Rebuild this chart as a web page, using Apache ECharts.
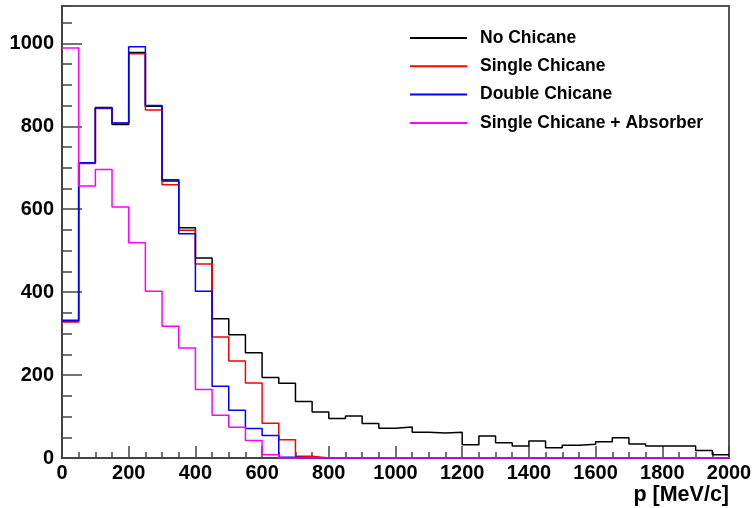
<!DOCTYPE html>
<html>
<head>
<meta charset="utf-8">
<script src="https://cdn.jsdelivr.net/npm/echarts@6/dist/echarts.min.js"></script>
<style>
  html, body { margin: 0; padding: 0; background: #fff; }
  #chart { width: 753px; height: 508px; }
</style>
</head>
<body>
<div id="chart"></div>
<script>
// histogram bins: 40 bins of 50 MeV/c from 0 to 2000
const binWidth = 50;
const binCount = 40;
const xTicks = [0, 200, 400, 600, 800, 1000, 1200, 1400, 1600, 1800, 2000];
const yTicks = [0, 200, 400, 600, 800, 1000];

const seriesNames = ["No Chicane", "Single Chicane", "Double Chicane", "Single Chicane + Absorber"];

const noChicane = [330, 712, 845, 804, 978, 848, 668, 555, 482, 336,
    297, 254, 194, 180, 136, 111, 95, 101, 83, 72,
    75, 62, 60, 62, 32, 53, 37, 29, 41, 25,
    31, 33, 39, 49, 34, 29, 29, 29, 18, 8];
const singleChicane = [328, 710, 843, 807, 975, 839, 659, 549, 468, 292,
    234, 181, 84, 44, 4, 0, 0, 0, 0, 0,
    0, 0, 0, 0, 0, 0, 0, 0, 0, 0,
    0, 0, 0, 0, 0, 0, 0, 0, 0, 0];
const doubleChicane = [332, 712, 844, 808, 992, 850, 671, 541, 402, 173,
    115, 71, 54, 2, 0, 0, 0, 0, 0, 0,
    0, 0, 0, 0, 0, 0, 0, 0, 0, 0,
    0, 0, 0, 0, 0, 0, 0, 0, 0, 0];
const singleAbsorber = [989, 656, 696, 605, 519, 402, 318, 265, 165, 103,
    74, 42, 8, 0, 0, 0, 0, 0, 0, 0,
    0, 0, 0, 0, 0, 0, 0, 0, 0, 0,
    0, 0, 0, 0, 0, 0, 0, 0, 0, 0];

const colors = ["#000000", "#ff0000", "#0000ff", "#ff00ff"];

// [low edge, content] pairs, plus the closing edge so the last bin is drawn
function toSteps(values) {
    const pts = values.map((v, i) => [i * binWidth, v]);
    pts.push([binCount * binWidth, values[values.length - 1]]);
    return pts;
}

const chart = echarts.init(document.getElementById("chart"));
const font = "Liberation Sans, Arial, Helvetica, sans-serif";
const axisColor = "#444";
const plain = v => String(v);

chart.setOption({
    animation: false,
    textStyle: { fontFamily: font },
    grid: {
        left: 62,
        right: 24,
        top: 6,
        bottom: 50,
        outerBoundsMode: "none",
        show: true,
        borderColor: "#555",
        borderWidth: 2
    },
    legend: {
        orient: "vertical",
        left: 405,
        top: 23,
        itemWidth: 57,
        itemHeight: 2,
        itemGap: 8.3,
        icon: "rect",
        data: seriesNames,
        textStyle: {
            fontFamily: font,
            fontWeight: "bold",
            fontSize: 17.5,
            color: "#000",
            lineHeight: 20,
            padding: [0, 0, 0, 8]
        }
    },
    xAxis: {
        type: "value",
        min: xTicks[0],
        max: xTicks[xTicks.length - 1],
        interval: xTicks[1] - xTicks[0],
        splitLine: { show: false },
        axisLine: { show: true, lineStyle: { color: axisColor, width: 2 } },
        axisTick: { show: true, inside: true, length: 12, lineStyle: { color: axisColor, width: 1.5 } },
        minorTick: { show: true, splitNumber: 4, length: 6, lineStyle: { color: axisColor, width: 1.5 } },
        axisLabel: {
            color: "#000",
            fontSize: 20,
            fontWeight: "bold",
            fontFamily: font,
            margin: 5,
            formatter: plain
        },
        name: "p [MeV/c]",
        nameLocation: "end",
        nameGap: 0,
        nameMoveOverlap: false,
        nameTextStyle: {
            color: "#000",
            fontSize: 21.5,
            fontWeight: "bold",
            fontFamily: font,
            align: "right",
            verticalAlign: "top",
            padding: [26, 0, 0, 0]
        }
    },
    yAxis: [
        {
            type: "value",
            min: yTicks[0],
            max: 1090,
            interval: yTicks[1] - yTicks[0],
            splitLine: { show: false },
            axisLine: { show: true, lineStyle: { color: axisColor, width: 2 } },
            axisTick: { show: true, inside: true, length: 20, lineStyle: { color: axisColor, width: 1.5 } },
            axisLabel: {
                color: "#000",
                fontSize: 20,
                fontWeight: "bold",
                fontFamily: font,
                margin: 8,
                showMaxLabel: false,
                formatter: plain
            }
        },
        {
            // minor ticks every 50
            type: "value",
            position: "left",
            min: yTicks[0],
            max: 1090,
            interval: 50,
            splitLine: { show: false },
            axisLine: { show: false },
            axisLabel: { show: false },
            axisTick: { show: true, inside: true, length: 10, lineStyle: { color: axisColor, width: 1.5 } }
        }
    ],
    series: [noChicane, singleChicane, doubleChicane, singleAbsorber].map((vals, i) => ({
        name: seriesNames[i],
        type: "line",
        step: "end",
        symbol: "none",
        yAxisIndex: 0,
        color: colors[i],
        lineStyle: { color: colors[i], width: 1.5 },
        data: toSteps(vals)
    }))
});
</script>
</body>
</html>
